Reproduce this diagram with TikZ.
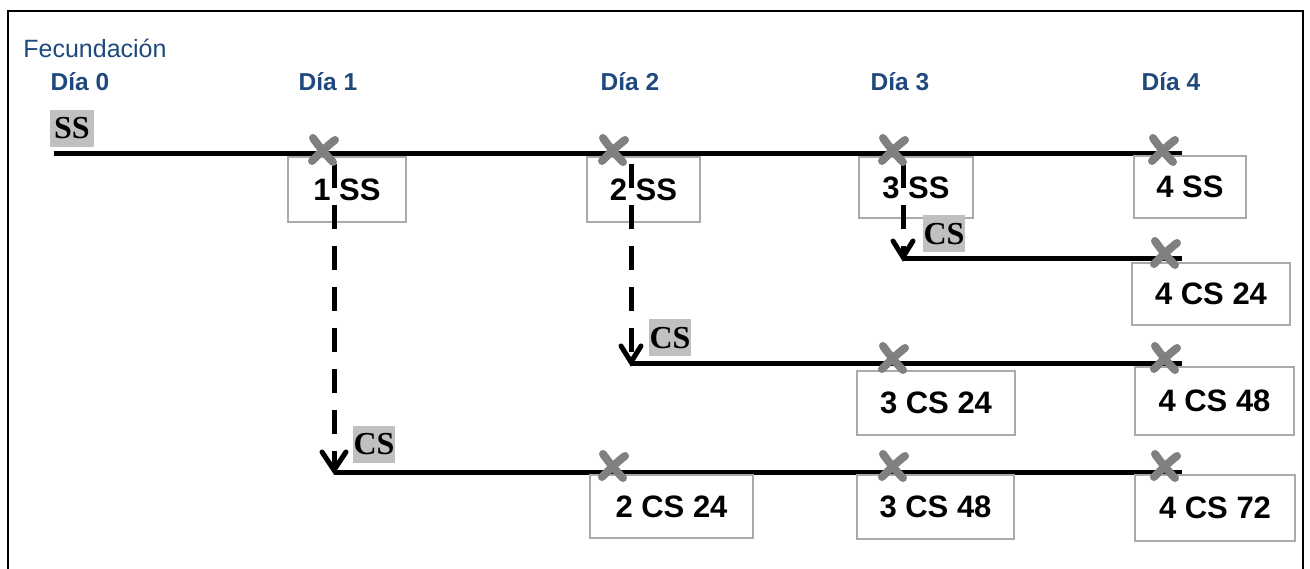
\documentclass[tikz,border=0pt]{standalone}
\usepackage{fontspec}
\setmainfont{Liberation Sans}
\newfontfamily\serifbold{Liberation Serif}
\usetikzlibrary{arrows.meta,calc}
\definecolor{dayblue}{RGB}{31,73,125}
\definecolor{boxgray}{RGB}{170,170,170}
\definecolor{markgray}{RGB}{128,128,128}
\definecolor{labelgray}{RGB}{192,192,192}
\begin{document}
\begin{tikzpicture}[x=1pt,y=-1pt,
  daylabel/.style={text=dayblue, font=\fontsize{24.5}{28}\selectfont\bfseries, inner sep=0pt},
  fecund/.style={text=dayblue, font=\fontsize{25}{28}\selectfont, inner sep=0pt},
  stagebox/.style={draw=boxgray, line width=1.5pt, font=\fontsize{31}{34}\selectfont\bfseries, inner sep=0pt},
  graylabel/.style={fill=labelgray, font=\serifbold\fontsize{32}{34}\selectfont\bfseries, inner sep=0pt, minimum width=42pt, minimum height=37pt},
  timeline/.style={line width=5pt},
  splitline/.style={line width=5pt, dash pattern=on 24pt off 17pt},
  barb/.style={line width=5pt, line cap=round, line join=miter},
  xmark/.pic={
    \draw[markgray, line width=8pt, line cap=round] (-10,-12) .. controls (-3,-2) and (4,6) .. (10,12);
    \draw[markgray, line width=8pt, line cap=round] (12,-10) .. controls (4,-4) and (-5,5) .. (-11,11);
  }
]
\useasboundingbox (0,0) rectangle (1310,569);
% frame
\draw[line width=2.5pt] (8,590) -- (8,11) -- (1303,11) -- (1303,590);

% headings
\node[fecund] (fec) at (95,48) {Fecundación};
\node[daylabel] (d0) at (80,82) {Día 0};
\node[daylabel] (d1) at (328,82) {Día 1};
\node[daylabel] (d2) at (630,82) {Día 2};
\node[daylabel] (d3) at (900,82) {Día 3};
\node[daylabel] (d4) at (1171,82) {Día 4};

% coordinates
\coordinate (s0) at (54,154);
\coordinate (e0) at (1182,154);
\coordinate (s3) at (903,259);
\coordinate (e3) at (1182,259);
\coordinate (s2) at (631,364);
\coordinate (e2) at (1182,364);
\coordinate (s1) at (334,472);
\coordinate (e1) at (1182,472);
\coordinate (b1) at (334,164);
\coordinate (b2) at (631,164);
\coordinate (b3) at (903,164);

% timelines
\draw[timeline] (s0) -- (e0);
\draw[timeline] (s3) -- (e3);
\draw[timeline] (s2) -- (e2);
\draw[timeline] (s1) -- (e1);

% boxes
\node[stagebox, minimum width=118pt, minimum height=65pt] (ss1) at (347,189.5) {1 SS};
\node[stagebox, minimum width=113pt, minimum height=65pt] (ss2) at (643.5,189.5) {2 SS};
\node[stagebox, minimum width=114pt, minimum height=61pt] (ss3) at (916,187.5) {3 SS};
\node[stagebox, minimum width=112pt, minimum height=62pt] (ss4) at (1190,187) {4 SS};
\node[stagebox, minimum width=158pt, minimum height=62pt] (cs424) at (1211,294) {4 CS 24};
\node[stagebox, minimum width=158pt, minimum height=64pt] (cs324) at (936,403) {3 CS 24};
\node[stagebox, minimum width=159pt, minimum height=68pt] (cs448) at (1214.5,401) {4 CS 48};
\node[stagebox, minimum width=163pt, minimum height=63pt] (cs224) at (671.5,506.5) {2 CS 24};
\node[stagebox, minimum width=157pt, minimum height=64pt] (cs348) at (935.5,507) {3 CS 48};
\node[stagebox, minimum width=160pt, minimum height=66pt] (cs472) at (1215,508) {4 CS 72};

% gray labels
\node[graylabel, minimum width=44pt] (lss) at (72,128.5) {SS};
\node[graylabel] (lcs3) at (944,234) {CS};
\node[graylabel] (lcs2) at (670,338) {CS};
\node[graylabel] (lcs1) at (374,444) {CS};

% split arrows (dashed shaft + open barb head)
\draw[splitline] (b1) -- ($(s1)+(0,-4)$);
\draw[splitline] (b2) -- ($(s2)+(0,-4)$);
\draw[splitline] (b3) -- ($(s3)+(0,-4)$);
\draw[barb] ($(s1)+(-12,-20)$) -- ($(s1)+(0,-2)$) -- ($(s1)+(12,-20)$);
\draw[barb] ($(s2)+(-10,-18)$) -- ($(s2)+(0,-2)$) -- ($(s2)+(10,-18)$);
\draw[barb] ($(s3)+(-10,-18)$) -- ($(s3)+(0,-2)$) -- ($(s3)+(10,-18)$);

% marks
\pic at (323,150) {xmark};
\pic at (613,150) {xmark};
\pic at (893,150) {xmark};
\pic at (1163,150) {xmark};
\pic at (1165,253) {xmark};
\pic at (893,358) {xmark};
\pic at (1165,358) {xmark};
\pic at (613,466) {xmark};
\pic at (893,466) {xmark};
\pic at (1165,466) {xmark};
\end{tikzpicture}
\end{document}
